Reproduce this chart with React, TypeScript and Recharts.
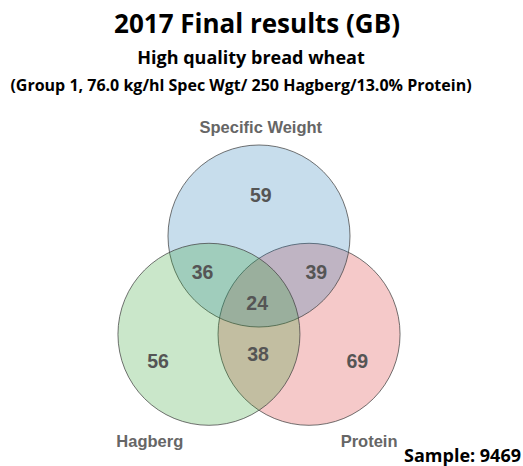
import React from 'react';
import { ScatterChart, Scatter, XAxis, YAxis } from 'recharts';

// Set circles (unit radius layout)
const setNames = ['Specific Weight', 'Hagberg', 'Protein'];
const setX = [0, -0.55, 0.55];
const setY = [0, -1.08, -1.08];
const setColors = ['#1f77b4', '#2ca02c', '#d62728'];
const drawOrder = [2, 0, 1];

// Set name label positions
const setLabelX = [0.02, -1.2, 1.21];
const setLabelY = [1.2, -2.25, -2.25];

// Region counts
const regionValues = [59, 36, 39, 24, 38, 56, 69];
const regionX = [0.02, -0.62, 0.63, -0.02, -0.01, -1.11, 1.08];
const regionY = [0.45, -0.4, -0.4, -0.74, -1.3, -1.37, -1.37];

const W = 523;
const H = 466;
const X_DOMAIN: [number, number] = [-2.846, 2.901];
const Y_DOMAIN: [number, number] = [-2.527, 2.593];
const PX_PER_UNIT = W / (X_DOMAIN[1] - X_DOMAIN[0]);

const circleData = drawOrder.map((i) => ({ name: setNames[i], x: setX[i], y: setY[i], color: setColors[i], r: 1 }));
const setLabelData = setNames.map((n, i) => ({ name: n, x: setLabelX[i], y: setLabelY[i] }));
const regionData = regionValues.map((v, i) => ({ v, x: regionX[i], y: regionY[i] }));

const CircleShape = (props: any) => {
  const { cx, cy, payload } = props;
  return (
    <circle cx={cx} cy={cy} r={payload.r * PX_PER_UNIT} fill={payload.color} fillOpacity={0.25} stroke="#444" strokeOpacity={0.75} strokeWidth={1} />
  );
};

const SetLabel = (props: any) => {
  const { cx, cy, payload } = props;
  return (
    <text x={cx} y={cy} textAnchor="middle" dominantBaseline="central" fontFamily="'Liberation Sans', Arial, sans-serif" fontWeight="bold" fontSize={16.5} fill="#666">
      {payload.name}
    </text>
  );
};

const RegionLabel = (props: any) => {
  const { cx, cy, payload } = props;
  return (
    <text x={cx} y={cy} textAnchor="middle" dominantBaseline="central" fontFamily="'Liberation Sans', Arial, sans-serif" fontWeight="bold" fontSize={19.5} fill="#555">
      {payload.v}
    </text>
  );
};

export default function App() {
  return (
    <div style={{ position: 'absolute', left: 0, top: 0, width: W, height: H, background: '#fff', overflow: 'hidden' }}>
      <ScatterChart width={W} height={H} margin={{ top: 0, right: 0, bottom: 0, left: 0 }}>
        <XAxis type="number" dataKey="x" domain={X_DOMAIN} hide allowDataOverflow />
        <YAxis type="number" dataKey="y" domain={Y_DOMAIN} hide allowDataOverflow />
        <Scatter data={circleData} shape={CircleShape} isAnimationActive={false} />
        <Scatter data={setLabelData} shape={SetLabel} isAnimationActive={false} />
        <Scatter data={regionData} shape={RegionLabel} isAnimationActive={false} />
      </ScatterChart>
      <div style={{ position: 'absolute', left: 0, top: 7, width: 514, textAlign: 'center', fontFamily: "'Open Sans', sans-serif", fontWeight: 'bold', fontSize: 26, lineHeight: '32px', color: '#000', whiteSpace: 'nowrap' }}>
        2017 Final results (GB)
      </div>
      <div style={{ position: 'absolute', left: 0, top: 46, width: 502, textAlign: 'center', fontFamily: "'Open Sans', sans-serif", fontWeight: 'bold', fontSize: 18, lineHeight: '22px', color: '#000', whiteSpace: 'nowrap' }}>
        High quality bread wheat
      </div>
      <div style={{ position: 'absolute', left: 0, top: 75, width: 482, textAlign: 'center', fontFamily: "'Open Sans', sans-serif", fontWeight: 'bold', fontSize: 16, lineHeight: '20px', color: '#000', whiteSpace: 'nowrap' }}>
        (Group 1, 76.0 kg/hl Spec Wgt/ 250 Hagberg/13.0% Protein)
      </div>
      <div style={{ position: 'absolute', right: 2, top: 444, fontFamily: "'Open Sans', sans-serif", fontWeight: 'bold', fontSize: 18, lineHeight: '22px', color: '#000', whiteSpace: 'nowrap' }}>
        Sample: 9469
      </div>
    </div>
  );
}
